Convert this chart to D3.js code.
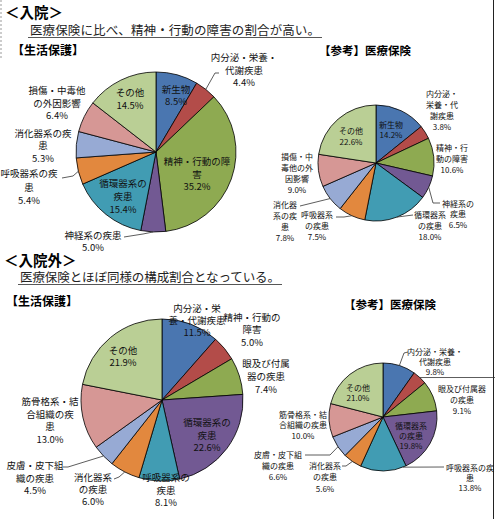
<!DOCTYPE html>
<html lang="ja">
<head>
	<meta charset="UTF-8"/>
	<title>生活保護と医療保険の疾病分類別構成割合</title>
	<script src="https://d3js.org/d3.v7.min.js"></script>
	<style>
		body{
			margin:0;
			background:#fff;
		}
		text{
			font-family:"Noto Sans CJK JP", "Noto Sans", sans-serif;
			fill:#111;
		}
		.head{ font-weight:bold; fill:#000; }
		.slice{ stroke:#000; stroke-width:0.8; }
		.leader{ fill:none; stroke:#333; stroke-width:0.8; }
	</style>
</head>
<body>
	<div id="chart"></div>

	<script>
	var w = 495;
	var h = 519;

	// categories (入院)
	var catIn = ["新生物", "内分泌・栄養・代謝疾患", "精神・行動の障害", "神経系の疾患", "循環器系の疾患",
		"呼吸器系の疾患", "消化器系の疾患", "損傷・中毒他の外因影響", "その他"];
	var welfareIn = [8.5, 4.4, 35.2, 5.0, 15.4, 5.4, 5.3, 6.4, 14.5];
	var insuranceIn = [14.2, 3.8, 10.6, 6.5, 18.0, 7.5, 7.8, 9.0, 22.6];

	// categories (入院外)
	var catOut = ["内分泌・栄養・代謝疾患", "精神・行動の障害", "眼及び付属器の疾患", "循環器系の疾患", "呼吸器系の疾患",
		"消化器系の疾患", "皮膚・皮下組織の疾患", "筋骨格系・結合組織の疾患", "その他"];
	var welfareOut = [11.5, 5.0, 7.4, 22.6, 8.1, 6.0, 4.5, 13.0, 21.9];
	var insuranceOut = [9.8, 4.3, 9.1, 19.8, 13.8, 5.6, 6.6, 10.0, 21.0];

	var colors = ["#4a76b0", "#b34c49", "#8eaa51", "#725993", "#419cb3", "#e2883e", "#97aad4", "#d69795", "#bacf95"];

	// label layout: x, y = centre of first line, sp = line step, br = break points, lead = points toward the pie
	var layUL = [
		{x:176, y:89, sp:12, br:[]},
		{x:244, y:57, sp:12.5, br:[7], lead:[[219,73],[215,73]]},
		{x:197, y:161, sp:12.5, br:[7]},
		{x:93, y:235, sp:12, br:[], lead:[[124,237],[143,234]]},
		{x:123, y:183, sp:13, br:[5]},
		{x:29, y:173, sp:13.5, br:[6], lead:[[62,178],[73,176]]},
		{x:43, y:133, sp:12.3, br:[6]},
		{x:57, y:90, sp:12.5, br:[6]},
		{x:130, y:92, sp:13, br:[]}
	];
	var layUR = [
		{x:391, y:124, sp:10.5, br:[]},
		{x:442, y:93, sp:11, br:[4,8]},
		{x:452, y:147, sp:11, br:[4]},
		{x:458, y:203, sp:10.5, br:[4], lead:[[440,203],[433,203]]},
		{x:430, y:214, sp:11, br:[4], lead:[[413,215]]},
		{x:317, y:214, sp:11, br:[4], lead:[[336,217],[344,217]]},
		{x:285, y:204, sp:11, br:[3,6], lead:[[300,206]]},
		{x:297, y:156, sp:11, br:[4,8]},
		{x:351, y:130, sp:11, br:[]}
	];
	var layLL = [
		{x:197, y:308, sp:12, br:[5]},
		{x:252, y:317, sp:12.3, br:[6]},
		{x:266, y:363, sp:13, br:[5]},
		{x:207, y:422, sp:12.5, br:[5]},
		{x:166, y:477, sp:12.5, br:[5]},
		{x:93, y:477, sp:12, br:[4], lead:[[114,479],[119,477]]},
		{x:35, y:465, sp:12.5, br:[6], lead:[[63,467],[68,467]]},
		{x:50, y:401, sp:12.5, br:[6,11]},
		{x:123, y:350, sp:12, br:[]}
	];
	var layLR = [
		{x:435, y:351, sp:10, br:[7], lead:[[408,352],[404,353]]},
		{x:null, lead:[[495,377.5]]},
		{x:462, y:388, sp:11, br:[6]},
		{x:411, y:425, sp:10, br:[4]},
		{x:470, y:467, sp:10, br:[6], lead:[[444,467]], t:0.07},
		{x:325, y:465, sp:11.5, br:[4], lead:[[342,466],[346,466]]},
		{x:278, y:454, sp:11, br:[6], lead:[[305,455],[330,455]]},
		{x:303, y:414, sp:10.5, br:[6]},
		{x:358, y:387, sp:10.5, br:[]}
	];

	var svg = d3.select("#chart")
				.append("svg")
				.attr("width", w)
				.attr("height", h);

	svg.append("rect").attr("width", w).attr("height", h).attr("fill", "#fff");

	// frame bits
	svg.append("line")
		.attr("x1", 493.5).attr("y1", 0).attr("x2", 493.5).attr("y2", h)
		.attr("stroke", "#222").attr("stroke-width", 1);
	svg.append("line")
		.attr("x1", 1).attr("y1", 0).attr("x2", 1).attr("y2", 58)
		.attr("stroke", "#999").attr("stroke-width", 1).attr("stroke-dasharray", "2,2");

	function heading(x, y, txt, size){
		svg.append("text").attr("class", "head")
			.attr("x", x).attr("y", y)
			.style("font-size", size + "px")
			.text(txt);
	}
	function subhead(x, y, txt, len){
		svg.append("text")
			.attr("x", x).attr("y", y)
			.attr("textLength", len)
			.style("font-size", "12.5px")
			.style("fill", "#222")
			.text(txt);
		svg.append("line")
			.attr("x1", x - 2).attr("x2", x + len + 2)
			.attr("y1", y + 2.5).attr("y2", y + 2.5)
			.attr("stroke", "#444").attr("stroke-width", 0.9);
	}

	heading(5, 18, "＜入院＞", 14.5);
	subhead(30, 35, "医療保険に比べ、精神・行動の障害の割合が高い。", 290);
	heading(12, 55, "【生活保護】", 12);
	heading(319, 55, "【参考】医療保険", 11.5);

	heading(4, 266, "＜入院外＞", 14.5);
	subhead(20, 282, "医療保険とほぼ同様の構成割合となっている。", 260);
	heading(6, 306, "【生活保護】", 12);
	heading(344, 309, "【参考】医療保険", 11.5);

	var pie = d3.pie().sort(null).value(function(d){ return d; });

	function pieChart(values, cats, cx, cy, r, lay, fs){
		var arcs = pie(values);
		var arc = d3.arc().innerRadius(0).outerRadius(r);
		var g = svg.append("g").attr("transform", "translate(" + cx + "," + cy + ")");

		g.selectAll("path")
			.data(arcs)
			.enter()
			.append("path")
			.attr("class", "slice")
			.attr("fill", function(d, i){ return colors[i]; })
			.attr("d", arc);

		arcs.forEach(function(a, i){
			var L = lay[i];
			if(L.lead){
				var t = L.t === undefined ? 0.5 : L.t;
				var ang = a.startAngle + t * (a.endAngle - a.startAngle);
				var pts = L.lead.slice();
				pts.push([cx + r * Math.sin(ang), cy - r * Math.cos(ang)]);
				svg.append("path")
					.attr("class", "leader")
					.attr("d", d3.line()(pts));
			}
			// the label of this slice sits outside the frame
			if(L.x === null) return;

			var name = cats[i];
			var lines = [];
			var prev = 0;
			L.br.forEach(function(b){
				lines.push(name.slice(prev, b));
				prev = b;
			});
			lines.push(name.slice(prev));
			lines.push(values[i].toFixed(1) + "%");

			var txt = svg.append("text")
				.attr("text-anchor", "middle")
				.style("font-size", fs + "px");
			lines.forEach(function(s, k){
				txt.append("tspan")
					.attr("x", L.x)
					.attr("y", L.y + k * L.sp)
					.attr("dominant-baseline", "central")
					.text(s);
			});
		});
	}

	pieChart(welfareIn, catIn, 156, 152, 80, layUL, 9.5);
	pieChart(insuranceIn, catIn, 376, 163, 58, layUR, 8);
	pieChart(welfareOut, catOut, 162, 400, 81, layLL, 9.5);
	pieChart(insuranceOut, catOut, 383, 417, 54, layLR, 8);
	</script>
</body>
</html>
